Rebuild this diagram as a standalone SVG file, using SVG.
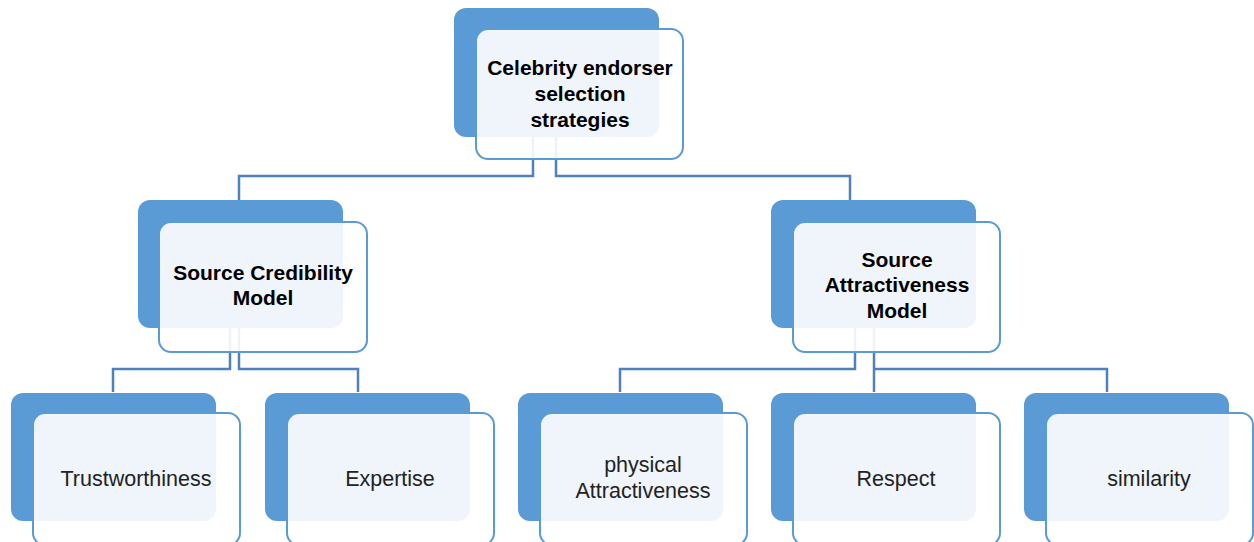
<svg xmlns="http://www.w3.org/2000/svg" width="1254" height="542" viewBox="0 0 1254 542">
<style>
.back{fill:#5b9bd5;}
.front{fill:#ffffff;fill-opacity:0.9;stroke:#5b9bd5;stroke-width:2;}
.conn{fill:none;stroke:#4f81bd;stroke-width:2.5;}
.b{font-family:"Liberation Sans",Arial,sans-serif;font-size:21px;font-weight:bold;fill:#000;text-anchor:middle;}
.n{font-family:"Liberation Sans",Arial,sans-serif;font-size:21.5px;fill:#222;text-anchor:middle;}
</style>
<rect width="1254" height="542" fill="#ffffff"/>
<g id="connectors">
<path class="conn" d="M533,130 V176 H239 V200"/>
<path class="conn" d="M556,130 V176 H850 V200"/>
<path class="conn" d="M230,320 V369 H113 V392"/>
<path class="conn" d="M239,320 V369 H358 V392"/>
<path class="conn" d="M855,320 V369 H620 V392"/>
<path class="conn" d="M874,320 V392"/>
<path class="conn" d="M874,369 H1107 V392"/>
</g>
<g id="root">
<rect class="back" x="454" y="8" width="205" height="129" rx="12"/>
<rect class="front" x="476" y="29" width="207" height="130" rx="12"/>
<text class="b" x="580" y="75">Celebrity endorser</text>
<text class="b" x="580" y="101">selection</text>
<text class="b" x="580" y="127">strategies</text>
</g>
<g id="credibility">
<rect class="back" x="138" y="200" width="205" height="128" rx="12"/>
<rect class="front" x="159" y="222" width="208" height="130" rx="12"/>
<text class="b" x="263" y="280">Source Credibility</text>
<text class="b" x="263" y="305">Model</text>
</g>
<g id="attractiveness">
<rect class="back" x="771" y="200" width="205" height="128" rx="12"/>
<rect class="front" x="793" y="222" width="207" height="130" rx="12"/>
<text class="b" x="897" y="267">Source</text>
<text class="b" x="897" y="292">Attractiveness</text>
<text class="b" x="897" y="318">Model</text>
</g>
<g id="trustworthiness">
<rect class="back" x="11" y="393" width="205" height="128" rx="12"/>
<rect class="front" x="33" y="413" width="207" height="132" rx="12"/>
<text class="n" x="136" y="486">Trustworthiness</text>
</g>
<g id="expertise">
<rect class="back" x="265" y="393" width="205" height="128" rx="12"/>
<rect class="front" x="287" y="413" width="207" height="132" rx="12"/>
<text class="n" x="390" y="486">Expertise</text>
</g>
<g id="physical">
<rect class="back" x="518" y="393" width="205" height="128" rx="12"/>
<rect class="front" x="540" y="413" width="207" height="132" rx="12"/>
<text class="n" x="643" y="472">physical</text>
<text class="n" x="643" y="498">Attractiveness</text>
</g>
<g id="respect">
<rect class="back" x="771" y="393" width="205" height="128" rx="12"/>
<rect class="front" x="793" y="413" width="207" height="132" rx="12"/>
<text class="n" x="896" y="486">Respect</text>
</g>
<g id="similarity">
<rect class="back" x="1024" y="393" width="205" height="128" rx="12"/>
<rect class="front" x="1046" y="413" width="207" height="132" rx="12"/>
<text class="n" x="1149" y="486">similarity</text>
</g>
</svg>
